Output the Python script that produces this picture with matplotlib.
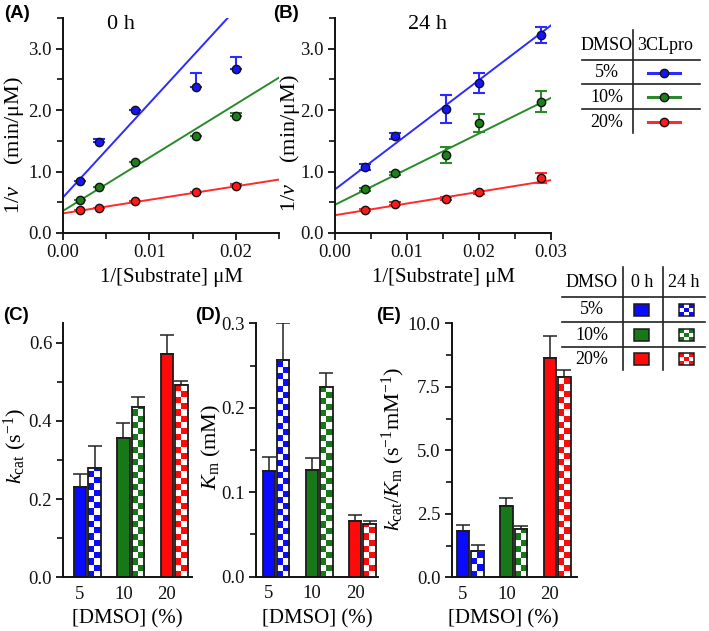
import numpy as np
import matplotlib
matplotlib.use("Agg")
import matplotlib.pyplot as plt
from matplotlib.colors import ListedColormap
from matplotlib.lines import Line2D
from matplotlib.patches import Rectangle
from matplotlib.ticker import MultipleLocator

plt.rcParams['font.family'] = ['Liberation Serif', 'DejaVu Serif']
plt.rcParams['mathtext.fontset'] = 'custom'
plt.rcParams['mathtext.rm'] = 'Liberation Serif'
plt.rcParams['mathtext.it'] = 'Liberation Serif:italic'
plt.rcParams['mathtext.bf'] = 'Liberation Serif:bold'

# ---------------- data ----------------
dmso_labels = ['5%', '10%', '20%']
dmso_ticks = ['5', '10', '20']

# Panel A (0 h) Lineweaver-Burk
a_x = [0.002, 0.0042, 0.0083, 0.0154, 0.020]
a_blue = [0.85, 1.48, 2.01, 2.37, 2.67]
a_green = [0.54, 0.75, 1.15, 1.58, 1.90]
a_red = [0.38, 0.41, 0.52, 0.67, 0.76]
a_blue_err = [0.0, 0.05, 0.0, 0.23, 0.20]
a_green_err = [0.0, 0.0, 0.0, 0.0, 0.05]
a_red_err = [0.0, 0.0, 0.0, 0.0, 0.03]
a_fit_x = [0.0, 0.025]
a_fit_blue = [0.58, 4.41]
a_fit_green = [0.36, 2.53]
a_fit_red = [0.32, 0.87]

# Panel B (24 h)
b_x = [0.0042, 0.0083, 0.0154, 0.020, 0.0286]
b_blue = [1.07, 1.58, 2.02, 2.44, 3.22]
b_green = [0.71, 0.97, 1.27, 1.79, 2.14]
b_red = [0.37, 0.48, 0.56, 0.66, 0.89]
b_blue_err = [0.05, 0.05, 0.23, 0.16, 0.13]
b_green_err = [0.03, 0.02, 0.13, 0.15, 0.17]
b_red_err = [0.02, 0.02, 0.02, 0.02, 0.08]
b_fit_x = [0.0, 0.03]
b_fit_blue = [0.71, 3.38]
b_fit_green = [0.46, 2.20]
b_fit_red = [0.29, 0.86]

# Panel C: kcat (s^-1)
kcat_0h = [0.232, 0.356, 0.571]
kcat_0h_err = [0.032, 0.039, 0.049]
kcat_24h = [0.279, 0.436, 0.492]
kcat_24h_err = [0.057, 0.026, 0.011]

# Panel D: Km (mM)
km_0h = [0.125, 0.126, 0.066]
km_0h_err = [0.017, 0.014, 0.007]
km_24h = [0.256, 0.225, 0.062]
km_24h_err = [0.044, 0.016, 0.004]

# Panel E: kcat/Km (s^-1 mM^-1)
eff_0h = [1.83, 2.80, 8.64]
eff_0h_err = [0.22, 0.31, 0.85]
eff_24h = [1.05, 1.91, 7.88]
eff_24h_err = [0.22, 0.12, 0.30]

# ---------------- style ----------------
line_cols = ['#2b2bff', '#2a8a2a', '#ff2a2a']
mark_cols = ['#1414ff', '#1e7e1e', '#ff1a1a']
bar_cols = ['#0a0aff', '#167816', '#ff0a0a']
W, H = 709, 631
TICK_FS = 13.5
XLAB_FS = 15
YLAB_FS = 16
fig = plt.figure(figsize=(W / 100, H / 100), dpi=100)


def ax_px(l, t, r, b):
    return fig.add_axes([l / W, 1 - b / H, (r - l) / W, (b - t) / H])


def fpt(x, y):
    return (x / W, 1 - y / H)


def style_axes(ax):
    for s in ['top', 'right']:
        ax.spines[s].set_visible(False)
    for s in ['left', 'bottom']:
        ax.spines[s].set_linewidth(1.4)
        ax.spines[s].set_color('#111111')
    ax.tick_params(which='major', direction='out', length=5, width=1.3, labelsize=TICK_FS,
                   colors='#111111', pad=3)
    ax.tick_params(which='minor', direction='out', length=4, width=1.2, colors='#111111')


def place_labels(ax, xl, yl):
    ax.xaxis.set_label_coords(*xl)
    ax.xaxis.label.set_verticalalignment('center')
    ax.yaxis.set_label_coords(*yl)
    ax.yaxis.label.set_verticalalignment('center')


# ---------- Panels A and B ----------
def lb_panel(ax, xs, ys_list, errs_list, fit_x, fits, xmax, xticks, two_sided, title, title_x):
    style_axes(ax)
    for ys, errs, fit, lc, mc in zip(ys_list, errs_list, fits, line_cols, mark_cols):
        ax.plot(fit_x, fit, color=lc, lw=1.4, zorder=2)
        if two_sided:
            yerr = errs
        else:
            yerr = [np.zeros(len(errs)), errs]
        ax.errorbar(xs, ys, yerr=yerr, fmt='none', ecolor=lc, elinewidth=1.5, capsize=4, capthick=1.5, zorder=3)
        ax.plot(xs, ys, 'o', ms=6, mfc=mc, mec='#111111', mew=1.0, zorder=4, clip_on=False)
    ax.set_xlim(0, xmax)
    ax.set_ylim(0, 3.5)
    ax.set_xticks(xticks)
    ax.set_xticklabels(['%.2f' % t for t in xticks])
    ax.xaxis.set_minor_locator(MultipleLocator(0.005))
    ax.set_yticks([0, 1, 2, 3])
    ax.set_yticklabels(['0.0', '1.0', '2.0', '3.0'])
    ax.yaxis.set_minor_locator(MultipleLocator(0.5))
    ax.set_xlabel('1/[Substrate] μM', fontsize=XLAB_FS)
    ax.set_ylabel('1/$\\mathit{v}$    (min/μM)', fontsize=YLAB_FS)
    ax.text(title_x, 0.97, title, transform=ax.transAxes, fontsize=16, ha='center', va='center')


axA = ax_px(63, 18, 279, 233)
lb_panel(axA, a_x, [a_blue, a_green, a_red], [a_blue_err, a_green_err, a_red_err], a_fit_x,
         [a_fit_blue, a_fit_green, a_fit_red], 0.025, [0, 0.01, 0.02], False, '0 h', 0.27)
place_labels(axA, (0.5, -0.205), (-0.225, 0.41))

axB = ax_px(335, 18, 551, 233)
lb_panel(axB, b_x, [b_blue, b_green, b_red], [b_blue_err, b_green_err, b_red_err], b_fit_x,
         [b_fit_blue, b_fit_green, b_fit_red], 0.03, [0, 0.01, 0.02, 0.03], True, '24 h', 0.43)
place_labels(axB, (0.5, -0.205), (-0.208, 0.42))

# ---------- Bar panels ----------
BW = 0.285
OFF = 0.335


def checker_fill(ax, rect, color):
    x0, y0 = rect.get_x(), rect.get_y()
    w, h = rect.get_width(), rect.get_height()
    p0 = ax.transData.transform((x0, y0))
    p1 = ax.transData.transform((x0 + w, y0 + h))
    wpx, hpx = p1[0] - p0[0], p1[1] - p0[1]
    ncol = 2
    sq_px = wpx / ncol
    nrow = int(np.ceil(hpx / sq_px))
    sq_data = sq_px * h / hpx
    grid = np.add.outer(np.arange(nrow), np.arange(ncol)) % 2
    cmap = ListedColormap([color, 'white'])
    im = ax.imshow(grid, extent=(x0, x0 + w, y0, y0 + nrow * sq_data), origin='lower', cmap=cmap,
                   aspect='auto', interpolation='nearest', zorder=2.5, vmin=0, vmax=1)
    im.set_clip_path(rect)


def bar_panel(ax, v0, e0, v24, e24, xlim, ylim, yticks, yticklabels, minor, ylabel):
    style_axes(ax)
    ax.set_xlim(*xlim)
    ax.set_ylim(*ylim)
    ax.set_autoscale_on(False)
    pos = np.arange(len(v0))
    ax.errorbar(pos, v0, yerr=[np.zeros(len(e0)), e0], fmt='none', ecolor='#222222', elinewidth=1.1,
                capsize=5, capthick=1.1, zorder=1.5)
    ax.errorbar(pos + OFF, v24, yerr=[np.zeros(len(e24)), e24], fmt='none', ecolor='#222222',
                elinewidth=1.1, capsize=5, capthick=1.1, zorder=1.5)
    ax.bar(pos, v0, width=BW, color=bar_cols, edgecolor='#1a1a1a', linewidth=1.3, zorder=2)
    bars24 = ax.bar(pos + OFF, v24, width=BW, color=bar_cols, edgecolor='none', linewidth=0, zorder=2)
    for rect, c in zip(bars24, bar_cols):
        checker_fill(ax, rect, c)
    ax.bar(pos + OFF, v24, width=BW, fill=False, edgecolor='#1a1a1a', linewidth=1.3, zorder=3)
    ax.set_xlim(*xlim)
    ax.set_ylim(*ylim)
    ax.set_xticks(pos)
    ax.set_xticklabels(dmso_ticks)
    ax.tick_params(axis='x', length=0, pad=6)
    ax.set_yticks(yticks)
    ax.set_yticklabels(yticklabels)
    ax.yaxis.set_minor_locator(MultipleLocator(minor))
    ax.set_xlabel('[DMSO] (%)', fontsize=XLAB_FS)
    ax.set_ylabel(ylabel, fontsize=YLAB_FS)


axC = ax_px(63.3, 323.3, 192, 577.3)
bar_panel(axC, kcat_0h, kcat_0h_err, kcat_24h, kcat_24h_err, (-0.386, 2.58), (0, 0.65),
          [0, 0.2, 0.4, 0.6], ['0.0', '0.2', '0.4', '0.6'], 0.1, '$k_{\\mathrm{cat}}$ (s$^{-1}$)')
place_labels(axC, (0.5, -0.165), (-0.375, 0.515))

axD = ax_px(256, 323.3, 378, 576.7)
bar_panel(axD, km_0h, km_0h_err, km_24h, km_24h_err, (-0.296, 2.53), (0, 0.3),
          [0, 0.1, 0.2, 0.3], ['0.0', '0.1', '0.2', '0.3'], 0.05, '$K_{\\mathrm{m}}$ (mM)')
place_labels(axD, (0.5, -0.165), (-0.365, 0.513))

axE = ax_px(451.7, 323.3, 576.7, 577.3)
bar_panel(axE, eff_0h, eff_0h_err, eff_24h, eff_24h_err, (-0.26, 2.62), (0, 10),
          [0, 2.5, 5, 7.5, 10], ['0.0', '2.5', '5.0', '7.5', '10.0'], 1.25,
          '$k_{\\mathrm{cat}}$/$K_{\\mathrm{m}}$ (s$^{-1}$mM$^{-1}$)')
place_labels(axE, (0.41, -0.165), (-0.47, 0.505))

# ---------- panel letters ----------
for lab, (x, y) in zip(['(A)', '(B)', '(C)', '(D)', '(E)'],
                       [(4, 13), (273, 13), (3, 315), (195, 315), (376, 316)]):
    fig.text(*fpt(x, y), lab, fontsize=13.5, fontweight='bold', family='Liberation Sans',
             ha='left', va='center')


# ---------- table legends ----------
def fline(x0, y0, x1, y1, **kw):
    fig.add_artist(Line2D([x0 / W, x1 / W], [1 - y0 / H, 1 - y1 / H], transform=fig.transFigure,
                          color='#222222', lw=1.2, **kw))


# legend 1
fig.text(*fpt(606.7, 45), 'DMSO', fontsize=13, ha='center', va='center')
fig.text(*fpt(665, 45), '3CLpro', fontsize=13, ha='center', va='center')
fline(632.7, 30, 632.7, 133)
for yy in [60, 84.3, 109.3]:
    fline(582, yy, 700, yy)
for lab, yy, lc, mc in zip(dmso_labels, [72.7, 97.3, 122.3], line_cols, mark_cols):
    fig.text(*fpt(606.7, yy), lab, fontsize=13, ha='center', va='center')
    fig.add_artist(Line2D([648.3 / W, 680 / W], [1 - yy / H, 1 - yy / H], transform=fig.transFigure,
                          color=lc, lw=2.2))
    fig.add_artist(Line2D([664.2 / W], [1 - yy / H], transform=fig.transFigure, marker='o', ms=6,
                          mfc=mc, mec='#111111', mew=1.0, lw=0))

# legend 2
fig.text(*fpt(591.7, 282.3), 'DMSO', fontsize=13, ha='center', va='center')
fig.text(*fpt(641.7, 282.3), '0 h', fontsize=13, ha='center', va='center')
fig.text(*fpt(684, 282.3), '24 h', fontsize=13, ha='center', va='center')
fline(622.7, 266.7, 622.7, 370)
fline(663.3, 266.7, 663.3, 370)
for yy in [296.7, 321.7, 346.7]:
    fline(561.7, yy, 705, yy)
for lab, yy, c in zip(dmso_labels, [310, 335, 359.3], bar_cols):
    fig.text(*fpt(591.7, yy), lab, fontsize=13, ha='center', va='center')
    fig.add_artist(Rectangle(fpt(633.5, yy + 6), 15 / W, 12 / H, transform=fig.transFigure,
                             facecolor=c, edgecolor='#1a1a1a', lw=1.1))
    sx, sy = 678.5, yy + 6
    cw, ch = 15 / 3, 12 / 3
    for i in range(3):
        for j in range(3):
            col = c if (i + j) % 2 == 0 else 'white'
            fig.add_artist(Rectangle(fpt(sx + j * cw, sy - i * ch), cw / W, ch / H,
                                     transform=fig.transFigure, facecolor=col, edgecolor='none'))
    fig.add_artist(Rectangle(fpt(sx, sy), 15 / W, 12 / H, transform=fig.transFigure,
                             facecolor='none', edgecolor='#1a1a1a', lw=1.1))

fig.savefig('out.png', dpi=100)
